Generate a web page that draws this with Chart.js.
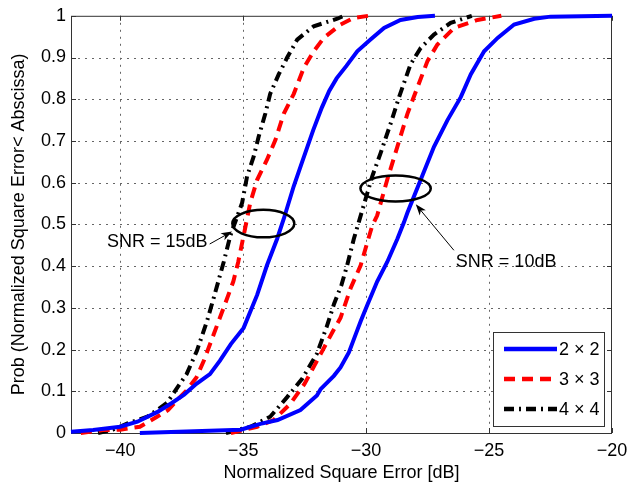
<!DOCTYPE html>
<html>
<head>
<meta charset="utf-8">
<title>Normalized Square Error CDF</title>
<script src="https://cdn.jsdelivr.net/npm/chart.js@4/dist/chart.umd.min.js"></script>
<style>
	html, body { margin: 0; padding: 0; background: #fff; }
	canvas { display: block; }
</style>
</head>
<body>
<canvas id="myChart" width="639" height="485"></canvas>
<script>
const seriesLabels = ['2 \u00d7 2', '3 \u00d7 3', '4 \u00d7 4'];
const xTicks = [-40, -35, -30, -25, -20];
const yTicks = [0, 0.1, 0.2, 0.3, 0.4, 0.5, 0.6, 0.7, 0.8, 0.9, 1];

// SNR = 15dB
const x2x2_15 = [-42, -41.1, -40.0, -39.3, -38.5, -37.9, -37.4, -36.9, -36.35, -35.95, -35.5, -34.98, -34.43, -34.03, -33.62, -33.35, -32.94, -32.6, -32.15, -31.8, -31.5, -31.2, -30.8, -30.36, -29.82, -29.27, -28.6, -27.9, -27.2];
const y2x2_15 = [0.003, 0.007, 0.015, 0.027, 0.05, 0.072, 0.092, 0.118, 0.141, 0.173, 0.213, 0.252, 0.331, 0.402, 0.465, 0.513, 0.592, 0.65, 0.726, 0.78, 0.82, 0.85, 0.88, 0.915, 0.943, 0.971, 0.99, 0.997, 1.0];
const x3x3_15 = [-41.6, -40.7, -40.0, -39.2, -38.5, -38.05, -37.7, -37.3, -36.9, -36.6, -36.2, -35.8, -35.4, -35.2, -34.98, -34.71, -34.43, -34.03, -33.69, -33.35, -32.94, -32.53, -32.13, -31.72, -31.04, -30.5, -29.9];
const y3x3_15 = [0.0, 0.007, 0.008, 0.015, 0.039, 0.055, 0.078, 0.102, 0.133, 0.173, 0.236, 0.299, 0.363, 0.41, 0.473, 0.552, 0.607, 0.655, 0.702, 0.765, 0.813, 0.876, 0.915, 0.947, 0.979, 0.995, 1.0];
const x4x4_15 = [-40.9, -40.3, -39.7, -38.9, -38.5, -38.1, -37.8, -37.3, -36.88, -36.47, -36.2, -35.79, -35.52, -35.04, -34.84, -34.57, -34.37, -34.1, -33.9, -33.55, -33.21, -32.8, -32.13, -31.17, -30.9];
const y4x4_15 = [0.0, 0.008, 0.023, 0.039, 0.055, 0.072, 0.098, 0.141, 0.197, 0.268, 0.323, 0.41, 0.473, 0.552, 0.615, 0.663, 0.71, 0.765, 0.813, 0.86, 0.9, 0.943, 0.975, 0.993, 1.0];

// SNR = 10dB
const x2x2_10 = [-39.2, -35.1, -34.7, -34.3, -33.6, -32.67, -32.0, -31.85, -31.31, -31.04, -30.7, -30.4, -30.22, -29.95, -29.55, -29.14, -28.73, -28.46, -28.32, -27.78, -27.24, -26.69, -26.15, -25.74, -25.2, -24.65, -23.98, -23.16, -22.5, -20];
const y2x2_10 = [0.0, 0.008, 0.015, 0.022, 0.031, 0.055, 0.09, 0.105, 0.137, 0.157, 0.193, 0.24, 0.268, 0.307, 0.363, 0.41, 0.465, 0.505, 0.528, 0.607, 0.686, 0.75, 0.805, 0.86, 0.915, 0.947, 0.979, 0.993, 0.998, 1.0];
const x3x3_10 = [-35.5, -34.43, -33.76, -33.08, -32.5, -31.85, -31.35, -31.04, -30.63, -30.22, -29.95, -29.75, -29.55, -29.14, -28.73, -28.32, -27.91, -27.5, -27.1, -26.42, -25.47, -24.5];
const y3x3_10 = [0.0, 0.015, 0.031, 0.07, 0.118, 0.189, 0.244, 0.276, 0.347, 0.402, 0.457, 0.497, 0.521, 0.607, 0.686, 0.765, 0.829, 0.892, 0.931, 0.971, 0.99, 1.0];
const x4x4_10 = [-35.7, -34.7, -33.9, -33.21, -32.6, -32.0, -31.6, -31.3, -31.0, -30.77, -30.5, -30.3, -29.75, -29.41, -29.0, -28.66, -28.19, -27.78, -27.24, -26.56, -25.7];
const y4x4_10 = [0.0, 0.015, 0.039, 0.086, 0.13, 0.19, 0.255, 0.31, 0.355, 0.402, 0.465, 0.505, 0.615, 0.671, 0.742, 0.805, 0.884, 0.923, 0.955, 0.983, 1.0];

const styles = [
	{ color: '#0000ff', dash: [] },
	{ color: '#ff0000', dash: [11, 7] },
	{ color: '#000000', dash: [10, 5, 2, 5] }
];

const curves = [
	{ xs: x2x2_15, ys: y2x2_15, s: 0 },
	{ xs: x3x3_15, ys: y3x3_15, s: 1 },
	{ xs: x4x4_15, ys: y4x4_15, s: 2 },
	{ xs: x2x2_10, ys: y2x2_10, s: 0 },
	{ xs: x3x3_10, ys: y3x3_10, s: 1 },
	{ xs: x4x4_10, ys: y4x4_10, s: 2 }
];

// annotations, in data units
const ellipses = [
	{ x: -34.18, y: 0.502, rx: 1.26, ry: 0.033 },
	{ x: -28.80, y: 0.586, rx: 1.43, ry: 0.031 }
];
const arrows = [
	{ x0: -36.36, y0: 0.453, x1: -35.45, y1: 0.483 },
	{ x0: -26.43, y0: 0.438, x1: -27.98, y1: 0.548 }
];
const notes = [
	{ text: 'SNR = 15dB', x: -36.45, y: 0.458, align: 'right' },
	{ text: 'SNR = 10dB', x: -26.35, y: 0.41, align: 'left' }
];

const FONT = "18px 'Liberation Sans', Arial, sans-serif";

function drawArrow(ctx, ax, ay, bx, by) {
	const ang = Math.atan2(by - ay, bx - ax);
	const len = 11, half = 4;
	ctx.beginPath();
	ctx.moveTo(ax, ay);
	ctx.lineTo(bx - Math.cos(ang) * 6, by - Math.sin(ang) * 6);
	ctx.stroke();
	ctx.beginPath();
	ctx.moveTo(bx, by);
	ctx.lineTo(bx - Math.cos(ang) * len - Math.sin(ang) * half, by - Math.sin(ang) * len + Math.cos(ang) * half);
	ctx.lineTo(bx - Math.cos(ang) * (len - 3), by - Math.sin(ang) * (len - 3));
	ctx.lineTo(bx - Math.cos(ang) * len + Math.sin(ang) * half, by - Math.sin(ang) * len - Math.cos(ang) * half);
	ctx.closePath();
	ctx.fill();
}

const frame = {
	id: 'frame',
	beforeDatasetsDraw(chart) {
		const { ctx, chartArea: a, scales: { x, y } } = chart;
		ctx.save();
		// dotted grid
		ctx.strokeStyle = '#666';
		ctx.lineWidth = 1;
		ctx.setLineDash([2, 5]);
		ctx.beginPath();
		xTicks.forEach(v => {
			if (v <= x.min || v >= x.max) return;
			const px = Math.round(x.getPixelForValue(v)) + 0.5;
			ctx.moveTo(px, a.top);
			ctx.lineTo(px, a.bottom);
		});
		yTicks.forEach(v => {
			if (v <= y.min || v >= y.max) return;
			const py = Math.round(y.getPixelForValue(v)) + 0.5;
			ctx.moveTo(a.left, py);
			ctx.lineTo(a.right, py);
		});
		ctx.stroke();
		ctx.setLineDash([]);
		// box and inner ticks
		ctx.strokeStyle = '#333';
		ctx.strokeRect(a.left + 0.5, a.top + 0.5, a.right - a.left - 1, a.bottom - a.top);
		ctx.beginPath();
		xTicks.forEach(v => {
			const px = Math.round(x.getPixelForValue(v)) + 0.5;
			ctx.moveTo(px, a.bottom); ctx.lineTo(px, a.bottom - 5);
			ctx.moveTo(px, a.top); ctx.lineTo(px, a.top + 5);
		});
		yTicks.forEach(v => {
			const py = Math.round(y.getPixelForValue(v)) + 0.5;
			ctx.moveTo(a.left, py); ctx.lineTo(a.left + 5, py);
			ctx.moveTo(a.right, py); ctx.lineTo(a.right - 5, py);
		});
		ctx.stroke();
		ctx.restore();
	},
	afterDatasetsDraw(chart) {
		const { ctx, chartArea: a, scales: { x, y } } = chart;
		ctx.save();
		ctx.strokeStyle = '#000';
		ctx.fillStyle = '#000';
		ctx.lineWidth = 2.5;
		ellipses.forEach(e => {
			const cx = x.getPixelForValue(e.x), cy = y.getPixelForValue(e.y);
			const rx = x.getPixelForValue(e.x + e.rx) - cx;
			const ry = cy - y.getPixelForValue(e.y + e.ry);
			ctx.beginPath();
			ctx.ellipse(cx, cy, rx, ry, 0, 0, Math.PI * 2);
			ctx.stroke();
		});
		ctx.lineWidth = 1;
		arrows.forEach(r => {
			drawArrow(ctx, x.getPixelForValue(r.x0), y.getPixelForValue(r.y0), x.getPixelForValue(r.x1), y.getPixelForValue(r.y1));
		});
		ctx.font = FONT;
		ctx.textBaseline = 'middle';
		notes.forEach(n => {
			ctx.textAlign = n.align;
			ctx.fillText(n.text, x.getPixelForValue(n.x), y.getPixelForValue(n.y));
		});

		// legend box, bottom right
		const w = 111, h = 94;
		const lx = a.right - 8 - w, ly = a.bottom - 7 - h;
		ctx.fillStyle = '#fff';
		ctx.fillRect(lx, ly, w, h);
		ctx.strokeStyle = '#333';
		ctx.lineWidth = 1;
		ctx.strokeRect(lx + 0.5, ly + 0.5, w, h);
		ctx.textAlign = 'left';
		seriesLabels.forEach((lab, i) => {
			const st = styles[i];
			const ry = ly + 17 + i * 30;
			ctx.strokeStyle = st.color;
			ctx.lineWidth = 4.5;
			ctx.setLineDash(st.dash);
			ctx.beginPath();
			ctx.moveTo(lx + 11, ry);
			ctx.lineTo(lx + 64, ry);
			ctx.stroke();
			ctx.setLineDash([]);
			ctx.fillStyle = '#000';
			ctx.fillText(lab, lx + 66, ry + 1);
		});
		ctx.restore();
	}
};

const ctx = document.getElementById('myChart').getContext('2d');

new Chart(ctx, {
	type: 'line',
	data: {
		datasets: curves.map(c => ({
			label: seriesLabels[c.s],
			data: c.xs.map((v, i) => ({ x: v, y: c.ys[i] })),
			borderColor: styles[c.s].color,
			borderDash: styles[c.s].dash,
			borderWidth: 4,
			pointRadius: 0,
			tension: 0,
			fill: false,
			clip: 3
		}))
	},
	options: {
		responsive: false,
		animation: false,
		devicePixelRatio: 1,
		layout: { padding: { left: 0, right: 27, top: 11, bottom: 0 } },
		plugins: {
			legend: { display: false },
			tooltip: { enabled: false }
		},
		scales: {
			x: {
				type: 'linear',
				min: -42,
				max: -20,
				afterBuildTicks: s => { s.ticks = xTicks.map(v => ({ value: v })); },
				afterFit: s => { s.height = 52; },
				grid: { display: false, drawTicks: false },
				border: { display: false },
				ticks: {
					color: '#000',
					padding: 7,
					maxRotation: 0,
					font: { family: "'Liberation Sans', Arial, sans-serif", size: 18 },
					callback: v => v < 0 ? '\u2212' + Math.abs(v) : String(v)
				},
				title: {
					display: true,
					text: 'Normalized Square Error [dB]',
					color: '#000',
					padding: { top: 0, bottom: 1 },
					font: { family: "'Liberation Sans', Arial, sans-serif", size: 18 }
				}
			},
			y: {
				min: 0,
				max: 1,
				afterBuildTicks: s => { s.ticks = yTicks.map(v => ({ value: v })); },
				afterFit: s => { s.width = 71; },
				grid: { display: false, drawTicks: false },
				border: { display: false },
				ticks: {
					color: '#000',
					padding: 5,
					font: { family: "'Liberation Sans', Arial, sans-serif", size: 18 },
					callback: v => String(+v.toFixed(1))
				},
				title: {
					display: true,
					text: 'Prob (Normalized Square Error< Abscissa)',
					color: '#000',
					padding: { top: 8, bottom: 0 },
					font: { family: "'Liberation Sans', Arial, sans-serif", size: 18 }
				}
			}
		}
	},
	plugins: [frame]
});
</script>
</body>
</html>
